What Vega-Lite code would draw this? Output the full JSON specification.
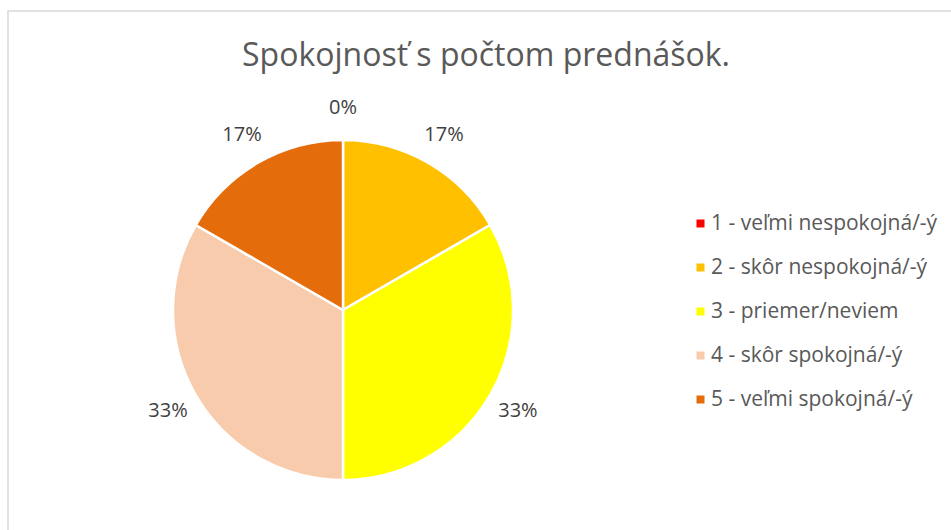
{
  "$schema": "https://vega.github.io/schema/vega-lite/v6.json",
  "width": 944,
  "height": 520,
  "autosize": {"type": "none"},
  "padding": {"left": 8, "top": 11, "right": 0, "bottom": 0},
  "background": "white",
  "view": {"stroke": "#d9d9d9", "strokeWidth": 1.5},
  "config": {
    "view": {"stroke": "#d9d9d9", "strokeWidth": 1.5},
    "font": "Open Sans"
  },
  "title": {
    "text": "Spokojnosť s počtom prednášok.",
    "orient": "top",
    "anchor": "middle",
    "frame": "group",
    "offset": -87,
    "baseline": "alphabetic",
    "dx": 6,
    "font": "Open Sans",
    "fontSize": 32,
    "fontWeight": "normal",
    "color": "#595959"
  },
  "data": {
    "values": [
      {"kategoria": "1 - veľmi nespokojná/-ý", "pocet": 0, "podiel": "0%"},
      {"kategoria": "2 - skôr nespokojná/-ý", "pocet": 1, "podiel": "17%"},
      {"kategoria": "3 - priemer/neviem", "pocet": 2, "podiel": "33%"},
      {"kategoria": "4 - skôr spokojná/-ý", "pocet": 2, "podiel": "33%"},
      {"kategoria": "5 - veľmi spokojná/-ý", "pocet": 1, "podiel": "17%"}
    ]
  },
  "encoding": {
    "theta": {"field": "pocet", "type": "quantitative", "stack": true},
    "order": {"field": "kategoria", "sort": "ascending"},
    "color": {
      "field": "kategoria",
      "type": "nominal",
      "scale": {
        "domain": ["1 - veľmi nespokojná/-ý", "2 - skôr nespokojná/-ý", "3 - priemer/neviem", "4 - skôr spokojná/-ý", "5 - veľmi spokojná/-ý"],
        "range": ["#FF0000", "#FFC000", "#FFFF00", "#F8CBAD", "#E46C0A"]
      },
      "legend": {
        "title": null,
        "orient": "none",
        "legendX": 682,
        "legendY": 202,
        "symbolType": "square",
        "symbolSize": 64,
        "symbolStrokeWidth": 0,
        "labelFont": "Open Sans",
        "labelFontSize": 21,
        "labelColor": "#595959",
        "labelOffset": 0,
        "rowPadding": 22,
        "labelLimit": 300
      }
    }
  },
  "layer": [
    {
      "mark": {"type": "arc", "outerRadius": 170, "stroke": "white", "strokeWidth": 2.5, "xOffset": -137, "yOffset": 39}
    },
    {
      "mark": {"type": "text", "radius": 202, "xOffset": -137, "yOffset": 39, "font": "Open Sans", "fontSize": 20, "align": "center", "baseline": "middle"},
      "encoding": {
        "text": {"field": "podiel", "type": "nominal"},
        "color": {"value": "#404040"}
      }
    }
  ]
}
